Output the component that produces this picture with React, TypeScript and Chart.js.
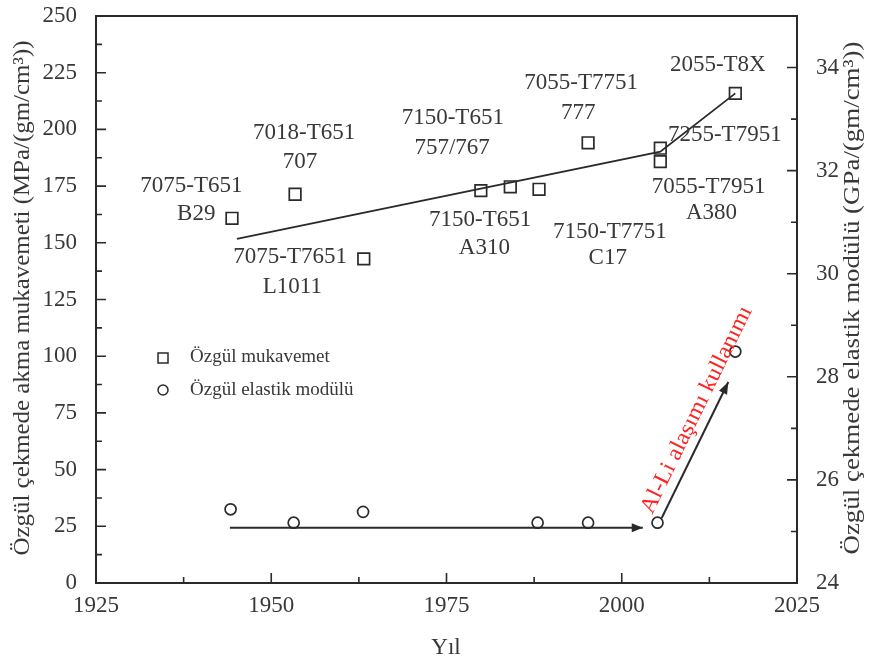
import React, { useEffect, useRef } from 'react';
import { Chart, registerables } from 'chart.js';
Chart.register(...registerables);

// ---- data ----
const strengthYears = [1944.4, 1953.4, 1963.2, 1979.9, 1984.1, 1988.2, 1995.2, 2005.5, 2005.5, 2016.2];
const strengthValues = [160.8, 171.4, 142.9, 173.0, 174.7, 173.6, 194.1, 191.7, 185.8, 215.9];

const trendYears = [1945.1, 2005.5, 2016.2];
const trendValues = [151.7, 190.2, 215.9];

const modulusYears = [1944.2, 1953.2, 1963.1, 1988.0, 1995.2, 2005.1, 2016.2];
const modulusValues = [25.43, 25.17, 25.38, 25.17, 25.17, 25.17, 28.49];

const flatArrowYears = [1944.1, 2003.0];
const flatArrowValues = [25.07, 25.07];

const alliArrowYears = [2005.7, 2015.2];
const alliArrowValues = [25.26, 27.9];

const xTicks = [1925, 1950, 1975, 2000, 2025];
const xMinor = [1937.5, 1962.5, 1987.5, 2012.5];
const yTicks = [0, 25, 50, 75, 100, 125, 150, 175, 200, 225, 250];
const yMinor = [12.5, 37.5, 62.5, 87.5, 112.5, 137.5, 162.5, 187.5, 212.5, 237.5];
const y1Ticks = [24, 26, 28, 30, 32, 34];
const y1Minor = [25, 27, 29, 31, 33, 35];

const alloyLabels = [
  '7075-T651', 'B29', '7018-T651', '707', '7075-T7651', 'L1011',
  '7150-T651', '757/767', '7150-T651', 'A310', '7055-T7751', '777',
  '2055-T8X', '7255-T7951', '7055-T7951', 'A380', '7150-T7751', 'C17',
];
const labelYears = [
  1938.6, 1939.3, 1954.7, 1954.1, 1952.7, 1953.0,
  1975.9, 1975.8, 1979.8, 1980.4, 1994.2, 1993.8,
  2013.7, 2014.7, 2012.4, 2012.8, 1998.3, 1998.0,
];
const labelValues = [
  175.0, 162.7, 198.4, 185.6, 143.7, 130.5,
  205.0, 191.8, 160.1, 147.7, 220.5, 207.2,
  228.4, 197.5, 174.6, 163.1, 154.8, 143.3,
];

const redText = 'Al-Li alaşımı kullanımı';
const redTextYear = 2010.7;
const redTextValue = 76.3;

const leftTitle = 'Özgül çekmede akma mukavemeti (MPa/(gm/cm³))';
const rightTitle = 'Özgül çekmede elastik modülü (GPa/(gm/cm³))';
const xTitle = 'Yıl';
const legendLabels = ['Özgül mukavemet', 'Özgül elastik modülü'];

const SERIF = '"Liberation Serif", "Times New Roman", serif';
const INK = '#2a2a2a';
const TXT = '#383838';

function arrowHead(ctx: CanvasRenderingContext2D, x0: number, y0: number, x1: number, y1: number, len: number, half: number) {
  const a = Math.atan2(y1 - y0, x1 - x0);
  ctx.save();
  ctx.translate(x1, y1);
  ctx.rotate(a);
  ctx.beginPath();
  ctx.moveTo(0, 0);
  ctx.lineTo(-len, -half);
  ctx.lineTo(-len, half);
  ctx.closePath();
  ctx.fill();
  ctx.restore();
}

function fitText(ctx: CanvasRenderingContext2D, text: string, cx: number, cy: number, angle: number, length: number) {
  ctx.save();
  ctx.translate(cx, cy);
  ctx.rotate(angle);
  const w = ctx.measureText(text).width;
  ctx.scale(length / w, 1);
  ctx.fillText(text, 0, 0);
  ctx.restore();
}

const overlay = {
  id: 'overlay',
  afterDatasetsDraw(chart: any) {
    const { ctx, chartArea: a, scales } = chart;
    const sx = scales.x, sy = scales.y, sy1 = scales.y1;
    ctx.save();
    // frame
    ctx.strokeStyle = INK;
    ctx.lineWidth = 2;
    ctx.strokeRect(a.left, a.top, a.right - a.left, a.bottom - a.top);
    // ticks
    ctx.lineWidth = 1.6;
    ctx.beginPath();
    const MAJ = 10, MIN = 6;
    yTicks.forEach(v => { const p = sy.getPixelForValue(v); ctx.moveTo(a.left, p); ctx.lineTo(a.left + MAJ, p); });
    yMinor.forEach(v => { const p = sy.getPixelForValue(v); ctx.moveTo(a.left, p); ctx.lineTo(a.left + MIN, p); });
    y1Ticks.forEach(v => { const p = sy1.getPixelForValue(v); ctx.moveTo(a.right, p); ctx.lineTo(a.right - MAJ, p); });
    y1Minor.forEach(v => { const p = sy1.getPixelForValue(v); ctx.moveTo(a.right, p); ctx.lineTo(a.right - MIN, p); });
    xTicks.forEach(v => { const p = sx.getPixelForValue(v); ctx.moveTo(p, a.bottom); ctx.lineTo(p, a.bottom - MAJ); });
    xMinor.forEach(v => { const p = sx.getPixelForValue(v); ctx.moveTo(p, a.bottom); ctx.lineTo(p, a.bottom - MIN); });
    ctx.stroke();

    // arrowheads
    ctx.fillStyle = INK;
    arrowHead(ctx,
      sx.getPixelForValue(flatArrowYears[0]), sy1.getPixelForValue(flatArrowValues[0]),
      sx.getPixelForValue(flatArrowYears[1]), sy1.getPixelForValue(flatArrowValues[1]), 11, 4.5);
    arrowHead(ctx,
      sx.getPixelForValue(alliArrowYears[0]), sy1.getPixelForValue(alliArrowValues[0]),
      sx.getPixelForValue(alliArrowYears[1]), sy1.getPixelForValue(alliArrowValues[1]), 12, 4.5);

    // alloy labels
    ctx.fillStyle = TXT;
    ctx.font = `23px ${SERIF}`;
    ctx.textAlign = 'center';
    ctx.textBaseline = 'middle';
    alloyLabels.forEach((t, i) => {
      ctx.fillText(t, sx.getPixelForValue(labelYears[i]), sy.getPixelForValue(labelValues[i]));
    });

    // red text
    ctx.fillStyle = '#ff2424';
    ctx.font = `23px ${SERIF}`;
    fitText(ctx, redText, sx.getPixelForValue(redTextYear), sy.getPixelForValue(redTextValue), -64 * Math.PI / 180, 228);

    // legend
    ctx.strokeStyle = INK;
    ctx.lineWidth = 1.5;
    ctx.strokeRect(158, 353, 10, 10);
    ctx.beginPath();
    ctx.arc(163, 390, 5, 0, Math.PI * 2);
    ctx.stroke();
    ctx.fillStyle = TXT;
    ctx.font = `19px ${SERIF}`;
    ctx.textAlign = 'left';
    ctx.fillText(legendLabels[0], 190, 357);
    ctx.fillText(legendLabels[1], 190, 390);

    // axis titles
    ctx.font = `23px ${SERIF}`;
    ctx.textAlign = 'center';
    fitText(ctx, leftTitle, 23, 298, -Math.PI / 2, 515);
    fitText(ctx, rightTitle, 853, 298, -Math.PI / 2, 513);
    ctx.font = `23px ${SERIF}`;
    ctx.fillText(xTitle, 446, 648);
    ctx.restore();
  },
};

export default function App() {
  const ref = useRef<HTMLCanvasElement>(null);
  useEffect(() => {
    document.body.style.margin = '0';
    const canvas = ref.current!;
    const tickFont = { family: SERIF, size: 23 };
    const fmt = (v: any) => String(v);
    const chart = new Chart(canvas, {
      type: 'scatter',
      data: {
        datasets: [
          {
            label: legendLabels[0],
            data: strengthYears.map((x, i) => ({ x, y: strengthValues[i] })),
            yAxisID: 'y',
            pointStyle: 'rect',
            pointRadius: 8.2,
            borderColor: INK,
            backgroundColor: 'rgba(0,0,0,0)',
            borderWidth: 1.7,
          },
          {
            label: 'trend',
            data: trendYears.map((x, i) => ({ x, y: trendValues[i] })),
            yAxisID: 'y',
            showLine: true,
            pointRadius: 0,
            borderColor: INK,
            borderWidth: 1.8,
          },
          {
            label: legendLabels[1],
            data: modulusYears.map((x, i) => ({ x, y: modulusValues[i] })),
            yAxisID: 'y1',
            pointStyle: 'circle',
            pointRadius: 5.5,
            borderColor: INK,
            backgroundColor: 'rgba(0,0,0,0)',
            borderWidth: 1.7,
          },
          {
            label: 'flat',
            data: flatArrowYears.map((x, i) => ({ x, y: flatArrowValues[i] })),
            yAxisID: 'y1',
            showLine: true,
            pointRadius: 0,
            borderColor: INK,
            borderWidth: 2,
          },
          {
            label: 'alli',
            data: alliArrowYears.map((x, i) => ({ x, y: alliArrowValues[i] })),
            yAxisID: 'y1',
            showLine: true,
            pointRadius: 0,
            borderColor: INK,
            borderWidth: 2,
          },
        ],
      },
      options: {
        responsive: false,
        animation: false,
        devicePixelRatio: 1,
        layout: { padding: { top: 16, left: 0, right: 0, bottom: 0 } },
        plugins: { legend: { display: false }, tooltip: { enabled: false } },
        scales: {
          x: {
            type: 'linear', min: 1925, max: 2025,
            grid: { display: false }, border: { display: false },
            ticks: { font: tickFont, color: TXT, padding: 1, maxRotation: 0, autoSkip: false, callback: fmt },
            afterBuildTicks: (s: any) => { s.ticks = xTicks.map(v => ({ value: v })); },
            afterFit: (s: any) => { s.height = 83; s.paddingLeft = 0; s.paddingRight = 0; },
          },
          y: {
            type: 'linear', position: 'left', min: 0, max: 250,
            grid: { display: false }, border: { display: false },
            ticks: { font: tickFont, color: TXT, padding: 11, autoSkip: false, callback: fmt },
            afterBuildTicks: (s: any) => { s.ticks = yTicks.map(v => ({ value: v })); },
            afterFit: (s: any) => { s.width = 96; s.paddingTop = 0; s.paddingBottom = 0; },
          },
          y1: {
            type: 'linear', position: 'right', min: 24, max: 35,
            grid: { display: false }, border: { display: false },
            ticks: { font: tickFont, color: TXT, padding: 11, autoSkip: false, callback: fmt },
            afterBuildTicks: (s: any) => { s.ticks = y1Ticks.map(v => ({ value: v })); },
            afterFit: (s: any) => { s.width = 73; s.paddingTop = 0; s.paddingBottom = 0; },
          },
        },
      },
      plugins: [overlay],
    } as any);
    return () => chart.destroy();
  }, []);
  return (
    <div style={{ width: 870, height: 666, background: '#fff' }}>
      <canvas ref={ref} width={870} height={666} />
    </div>
  );
}
